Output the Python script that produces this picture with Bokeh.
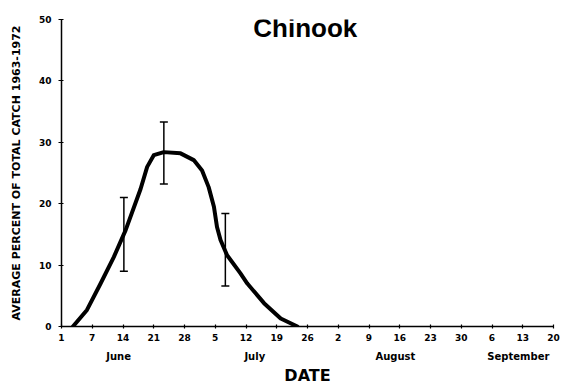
from bokeh.plotting import figure
from bokeh.models import (LinearAxis, FixedTicker, Label, Whisker, TeeHead,
                          ColumnDataSource, Range1d)
from bokeh.embed import file_html
from bokeh.resources import INLINE

# ---- data -------------------------------------------------------------
# x positions: weekly tick units (tick i sits at 7*i)
tick_pos = [0, 7, 14, 21, 28, 35, 42, 49, 56, 63, 70, 77, 84, 91, 98, 105, 112]
tick_labels = ["1", "7", "14", "21", "28", "5", "12", "19", "26",
               "2", "9", "16", "23", "30", "6", "13", "20"]
month_pos = [13, 44, 76, 104]
month_names = ["June", "July", "August", "September"]

curve_x = [2.6, 5.8, 8.9, 11.9, 14.6, 18.0, 19.5, 21.0, 23.3, 27.1, 30.1,
           32.0, 33.5, 34.7, 35.4, 36.2, 37.7, 40.7, 42.3, 46.1, 49.9, 53.7]
curve_y = [0.0, 2.7, 7.0, 11.3, 15.7, 22.4, 26.0, 27.9, 28.4, 28.2, 27.1,
           25.4, 22.7, 19.5, 16.2, 14.1, 11.6, 8.7, 7.0, 3.8, 1.3, 0.0]

err_x = [14.2, 23.3, 37.3]
err_low = [9.0, 23.2, 6.6]
err_high = [21.0, 33.3, 18.4]

y_ticks = [0, 10, 20, 30, 40, 50]

FONT = "DejaVu Sans"

p = figure(width=562, height=387, output_backend="svg", toolbar_location=None,
           x_range=Range1d(0, 112), y_range=Range1d(0, 50),
           min_border_left=61, min_border_right=9, min_border_top=19,
           min_border_bottom=60)
p.outline_line_color = None
p.grid.visible = False
p.background_fill_color = "white"
p.border_fill_color = "white"

# curve
p.line(curve_x, curve_y, line_width=4, line_color="black", line_join="round",
       line_cap="round")

# error bars
src = ColumnDataSource(dict(x=err_x, lo=err_low, hi=err_high))
wh = Whisker(source=src, base="x", lower="lo", upper="hi", dimension="height",
             line_color="black", line_width=1.5,
             lower_head=TeeHead(size=8, line_width=1.5, line_color="black"),
             upper_head=TeeHead(size=8, line_width=1.5, line_color="black"))
p.add_layout(wh)

# x axis (days)
xa = p.xaxis[0]
xa.ticker = FixedTicker(ticks=tick_pos)
xa.major_label_overrides = {t: l for t, l in zip(tick_pos, tick_labels)}
xa.axis_line_width = 1.5
xa.axis_line_color = "black"
xa.major_tick_in = 2
xa.major_tick_out = 2
xa.major_tick_line_width = 1.2
xa.minor_tick_line_color = None
xa.major_label_text_font = FONT
xa.major_label_text_font_style = "bold"
xa.major_label_text_font_size = "9px"
xa.major_label_text_color = "black"
xa.major_label_standoff = 5

# month axis with the DATE title
ma = LinearAxis(ticker=FixedTicker(ticks=month_pos),
                major_label_overrides={t: m for t, m in zip(month_pos, month_names)})
ma.axis_line_color = None
ma.major_tick_line_color = None
ma.minor_tick_line_color = None
ma.major_label_text_font = FONT
ma.major_label_text_font_style = "bold"
ma.major_label_text_font_size = "10px"
ma.major_label_text_color = "black"
ma.major_label_standoff = 1
ma.axis_label = "DATE"
ma.axis_label_text_font = FONT
ma.axis_label_text_font_style = "bold"
ma.axis_label_text_font_size = "16px"
ma.axis_label_text_color = "black"
ma.axis_label_standoff = 1
p.add_layout(ma, "below")

# y axis
ya = p.yaxis[0]
ya.ticker = FixedTicker(ticks=y_ticks)
ya.axis_line_width = 1.5
ya.axis_line_color = "black"
ya.major_tick_in = 2
ya.major_tick_out = 3
ya.major_tick_line_width = 1.2
ya.minor_tick_line_color = None
ya.major_label_text_font = FONT
ya.major_label_text_font_style = "bold"
ya.major_label_text_font_size = "9px"
ya.major_label_text_color = "black"
ya.major_label_standoff = 7
ya.axis_label = "AVERAGE PERCENT OF TOTAL CATCH 1963-1972"
ya.axis_label_text_font = FONT
ya.axis_label_text_font_style = "bold"
ya.axis_label_text_font_size = "11px"
ya.axis_label_text_color = "black"
ya.axis_label_standoff = 13

# title inside plot
p.add_layout(Label(x=55.5, y=48.65, text="Chinook", text_align="center",
                   text_baseline="alphabetic", text_font="Liberation Sans",
                   text_font_style="bold", text_font_size="26px",
                   text_color="black"))

open("out.html", "w").write(file_html(p, INLINE))
